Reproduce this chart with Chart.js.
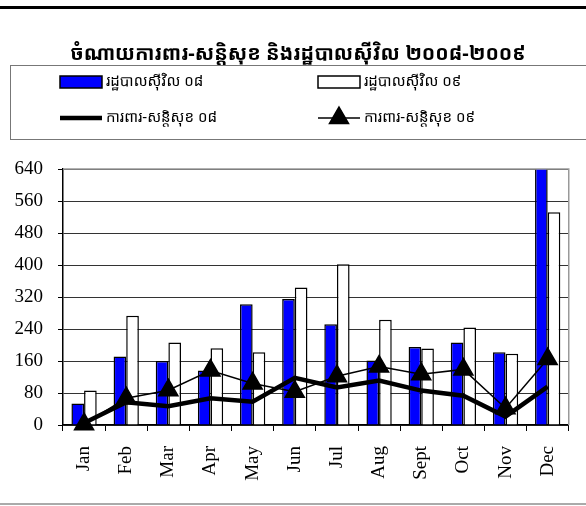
<!DOCTYPE html>
<html>
<head>
<meta charset="utf-8">
<script src="https://cdn.jsdelivr.net/npm/chart.js@4.4.0/dist/chart.umd.min.js"></script>
<style>
  html, body { margin: 0; padding: 0; background: #fff; }
  #wrap { width: 586px; height: 506px; }
</style>
</head>
<body>
<div id="wrap"><canvas id="chart" width="586" height="506"></canvas></div>
<script>
const title = 'ចំណាយការពារ-សន្តិសុខ និងរដ្ឋបាលស៊ីវិល ២០០៨-២០០៩';
const months = ['Jan', 'Feb', 'Mar', 'Apr', 'May', 'Jun', 'Jul', 'Aug', 'Sept', 'Oct', 'Nov', 'Dec'];
const yTicks = [0, 80, 160, 240, 320, 400, 480, 560, 640];

const civil08 = [54, 171, 160, 136, 302, 315, 252, 161, 195, 206, 182, 700];
const civil09 = [86, 273, 206, 192, 182, 344, 402, 263, 191, 244, 178, 532];
const defense08 = [5, 57, 47, 67, 58, 118, 94, 111, 86, 73, 21, 96];
const defense09 = [2, 67, 87, 136, 104, 83, 122, 146, 127, 139, 42, 165];

const labels = {
  civil08: 'រដ្ឋបាលស៊ីវិល ០៨',
  civil09: 'រដ្ឋបាលស៊ីវិល ០៩',
  defense08: 'ការពារ-សន្តិសុខ ០៨',
  defense09: 'ការពារ-សន្តិសុខ ០៩'
};

const serif = '"Liberation Serif", "Times New Roman", serif';
const khmer = '"Khmer OS", "Noto Sans Khmer", "Khmer OS System", "DejaVu Sans", sans-serif';

// title, legend box and frame lines
const framePlugin = {
  id: 'frame',
  afterDraw(chart) {
    const ctx = chart.ctx;
    const area = chart.chartArea;
    ctx.save();
    // top thick line
    ctx.fillStyle = '#000';
    ctx.fillRect(0, 6, 586, 3);
    // bottom gray line
    ctx.fillStyle = '#aaa';
    ctx.fillRect(0, 503, 586, 2);

    // plot border top/right
    ctx.strokeStyle = '#999';
    ctx.lineWidth = 1.5;
    ctx.beginPath();
    ctx.moveTo(area.left, area.top);
    ctx.lineTo(area.right, area.top);
    ctx.lineTo(area.right, area.bottom);
    ctx.stroke();

    // title
    ctx.fillStyle = '#000';
    ctx.font = 'bold 20px ' + khmer;
    ctx.textAlign = 'center';
    ctx.textBaseline = 'middle';
    ctx.fillText(title, 298, 54);

    // legend box
    ctx.strokeStyle = '#777';
    ctx.lineWidth = 1;
    ctx.strokeRect(10.5, 65.5, 600, 74);

    ctx.font = '15px ' + khmer;
    ctx.textAlign = 'left';
    const ds = chart.data.datasets;
    const items = [
      { d: ds[0], x: 60, y: 82 },
      { d: ds[1], x: 318, y: 82 },
      { d: ds[2], x: 60, y: 118 },
      { d: ds[3], x: 318, y: 118 }
    ];
    items.forEach(it => {
      const d = it.d;
      if (d.type === 'bar') {
        ctx.fillStyle = d.backgroundColor;
        ctx.fillRect(it.x, it.y - 6, 42, 12);
        ctx.strokeStyle = '#000';
        ctx.lineWidth = 1.5;
        ctx.strokeRect(it.x, it.y - 6, 42, 12);
      } else {
        ctx.strokeStyle = d.borderColor;
        ctx.lineWidth = d.borderWidth;
        ctx.beginPath();
        ctx.moveTo(it.x, it.y);
        ctx.lineTo(it.x + 42, it.y);
        ctx.stroke();
        if (d.pointStyle === 'triangle') {
          Chart.helpers.drawPoint(ctx, { pointStyle: 'triangle', radius: d.pointRadius, borderWidth: 1 }, it.x + 21, it.y);
          ctx.fillStyle = '#000';
          ctx.fill();
        }
      }
      ctx.fillStyle = '#000';
      ctx.fillText(d.label, it.x + 46, it.y);
    });
    ctx.restore();
  }
};

new Chart(document.getElementById('chart'), {
  data: {
    labels: months,
    datasets: [
      {
        type: 'bar',
        label: labels.civil08,
        data: civil08,
        backgroundColor: '#0000ff',
        borderColor: '#000',
        borderWidth: 1.5,
        barPercentage: 1,
        categoryPercentage: 0.6,
        order: 2
      },
      {
        type: 'bar',
        label: labels.civil09,
        data: civil09,
        backgroundColor: '#ffffff',
        borderColor: '#000',
        borderWidth: 1.5,
        barPercentage: 1,
        categoryPercentage: 0.6,
        order: 3
      },
      {
        type: 'line',
        label: labels.defense08,
        data: defense08,
        borderColor: '#000',
        borderWidth: 4.5,
        pointRadius: 0,
        tension: 0,
        clip: false,
        order: 1
      },
      {
        type: 'line',
        label: labels.defense09,
        data: defense09,
        borderColor: '#000',
        backgroundColor: '#000',
        borderWidth: 1.5,
        pointStyle: 'triangle',
        pointRadius: 11,
        pointBackgroundColor: '#000',
        pointBorderColor: '#000',
        tension: 0,
        clip: false,
        order: 0
      }
    ]
  },
  options: {
    responsive: false,
    animation: false,
    layout: { padding: { top: 169, right: 12, left: 0, bottom: 0 } },
    plugins: {
      legend: { display: false },
      title: { display: false },
      tooltip: { enabled: false }
    },
    scales: {
      x: {
        offset: true,
        grid: {
          display: true,
          drawOnChartArea: false,
          offset: true,
          color: '#000',
          tickLength: 6,
          tickColor: '#000'
        },
        border: { color: '#000', width: 1.5 },
        ticks: {
          color: '#000',
          maxRotation: 90,
          minRotation: 90,
          padding: 15,
          font: { family: serif, size: 19 }
        },
        afterFit(scale) { scale.height = 81; }
      },
      y: {
        min: 0,
        max: 640,
        afterBuildTicks(scale) { scale.ticks = yTicks.map(v => ({ value: v })); },
        grid: {
          color: '#333',
          lineWidth: 1,
          tickLength: 5,
          tickColor: '#000'
        },
        border: { color: '#000', width: 1.5 },
        ticks: {
          color: '#000',
          padding: 15,
          font: { family: serif, size: 19 }
        },
        afterFit(scale) { scale.width = 63; }
      }
    }
  },
  plugins: [framePlugin]
});
</script>
</body>
</html>
